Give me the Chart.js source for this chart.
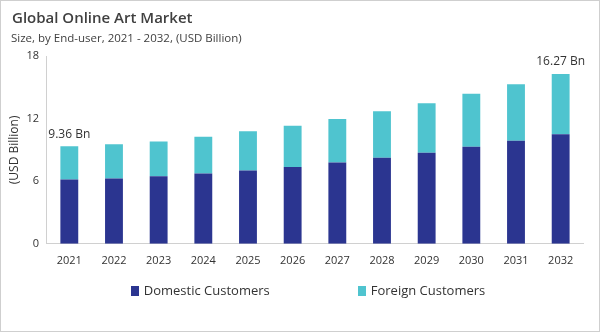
<!DOCTYPE html>
<html>
<head>
<meta charset="utf-8">
<script src="https://cdn.jsdelivr.net/npm/chart.js@4.4.1/dist/chart.umd.min.js"></script>
<style>
  html, body { margin: 0; padding: 0; background: #fff; }
  #wrap { position: relative; width: 600px; height: 332px; box-sizing: border-box; border: 1px solid #cfcfcf; font-family: 'Open Sans', 'Noto Sans', sans-serif; }
  canvas { display: block; }
  #title { position: absolute; left: 11px; top: 6px; font-size: 15px; font-weight: 600; color: #404040; }
  #subtitle { position: absolute; left: 10px; top: 29px; font-size: 11.5px; color: #404040; }
  #legend { position: absolute; top: 280px; left: 8px; width: 598px; text-align: center; font-size: 13px; color: #333; }
  #legend span { display: inline-block; margin: 0 44px; }
  #legend i { display: inline-block; width: 8px; height: 10px; margin-right: 5px; vertical-align: -1px; }
</style>
</head>
<body>
<div id="wrap">
  <canvas id="artChart" width="598" height="330"></canvas>
  <div id="title">Global Online Art Market</div>
  <div id="subtitle">Size, by End-user, 2021 - 2032, (USD Billion)</div>
  <div id="legend"></div>
</div>
<script>
// Data
const years = ['2021', '2022', '2023', '2024', '2025', '2026', '2027', '2028', '2029', '2030', '2031', '2032'];
const domestic = [6.16, 6.25, 6.48, 6.74, 7.02, 7.37, 7.80, 8.24, 8.72, 9.30, 9.88, 10.49];
const foreign = [3.20, 3.28, 3.33, 3.52, 3.76, 3.95, 4.16, 4.46, 4.75, 5.07, 5.42, 5.78];
const yTicks = [0, 6, 12, 18];
const callouts = { 0: '9.36 Bn', 11: '16.27 Bn' };

const FONT = "'Open Sans', 'Noto Sans', sans-serif";

// Labels above first and last bars
const calloutPlugin = {
    id: 'callouts',
    afterDatasetsDraw(chart) {
        const ctx = chart.ctx;
        const top = chart.getDatasetMeta(1);
        ctx.save();
        ctx.font = `12px ${FONT}`;
        ctx.fillStyle = '#333';
        ctx.textAlign = 'center';
        ctx.textBaseline = 'bottom';
        Object.keys(callouts).forEach(i => {
            const bar = top.data[i];
            ctx.fillText(callouts[i], bar.x, bar.y - 6);
        });
        ctx.restore();
    }
};

// Legend built in HTML so the wide gap between items does not eat vertical space
const htmlLegend = {
    id: 'htmlLegend',
    afterUpdate(chart) {
        const box = document.getElementById('legend');
        box.innerHTML = '';
        chart.data.datasets.forEach(ds => {
            const item = document.createElement('span');
            item.innerHTML = `<i style="background:${ds.backgroundColor}"></i>${ds.label}`;
            box.appendChild(item);
        });
    }
};

const ctx = document.getElementById('artChart').getContext('2d');
new Chart(ctx, {
    type: 'bar',
    data: {
        labels: years,
        datasets: [
            { label: 'Domestic Customers', data: domestic, backgroundColor: '#2b3590', barPercentage: 0.4, categoryPercentage: 1 },
            { label: 'Foreign Customers', data: foreign, backgroundColor: '#4fc4cf', barPercentage: 0.4, categoryPercentage: 1 }
        ]
    },
    options: {
        responsive: false,
        animation: false,
        layout: { padding: { left: 5, right: 16, top: 55, bottom: 54 } },
        scales: {
            x: {
                stacked: true,
                grid: { display: false, drawTicks: false },
                border: { color: '#d0d0d0' },
                ticks: { color: '#333', font: { family: FONT, size: 11 }, padding: 10 }
            },
            y: {
                stacked: true,
                min: 0, max: 18,
                afterBuildTicks: axis => { axis.ticks = yTicks.map(v => ({ value: v })); },
                grid: { display: false, drawTicks: true, tickLength: 4, color: '#d0d0d0' },
                border: { color: '#d0d0d0' },
                ticks: { color: '#333', font: { family: FONT, size: 11 }, padding: 4 },
                title: { display: true, text: '(USD Billion)', color: '#333', font: { family: FONT, size: 12 }, padding: 1 }
            }
        },
        plugins: {
            legend: { display: false },
            tooltip: { enabled: false }
        }
    },
    plugins: [calloutPlugin, htmlLegend]
});
</script>
</body>
</html>
